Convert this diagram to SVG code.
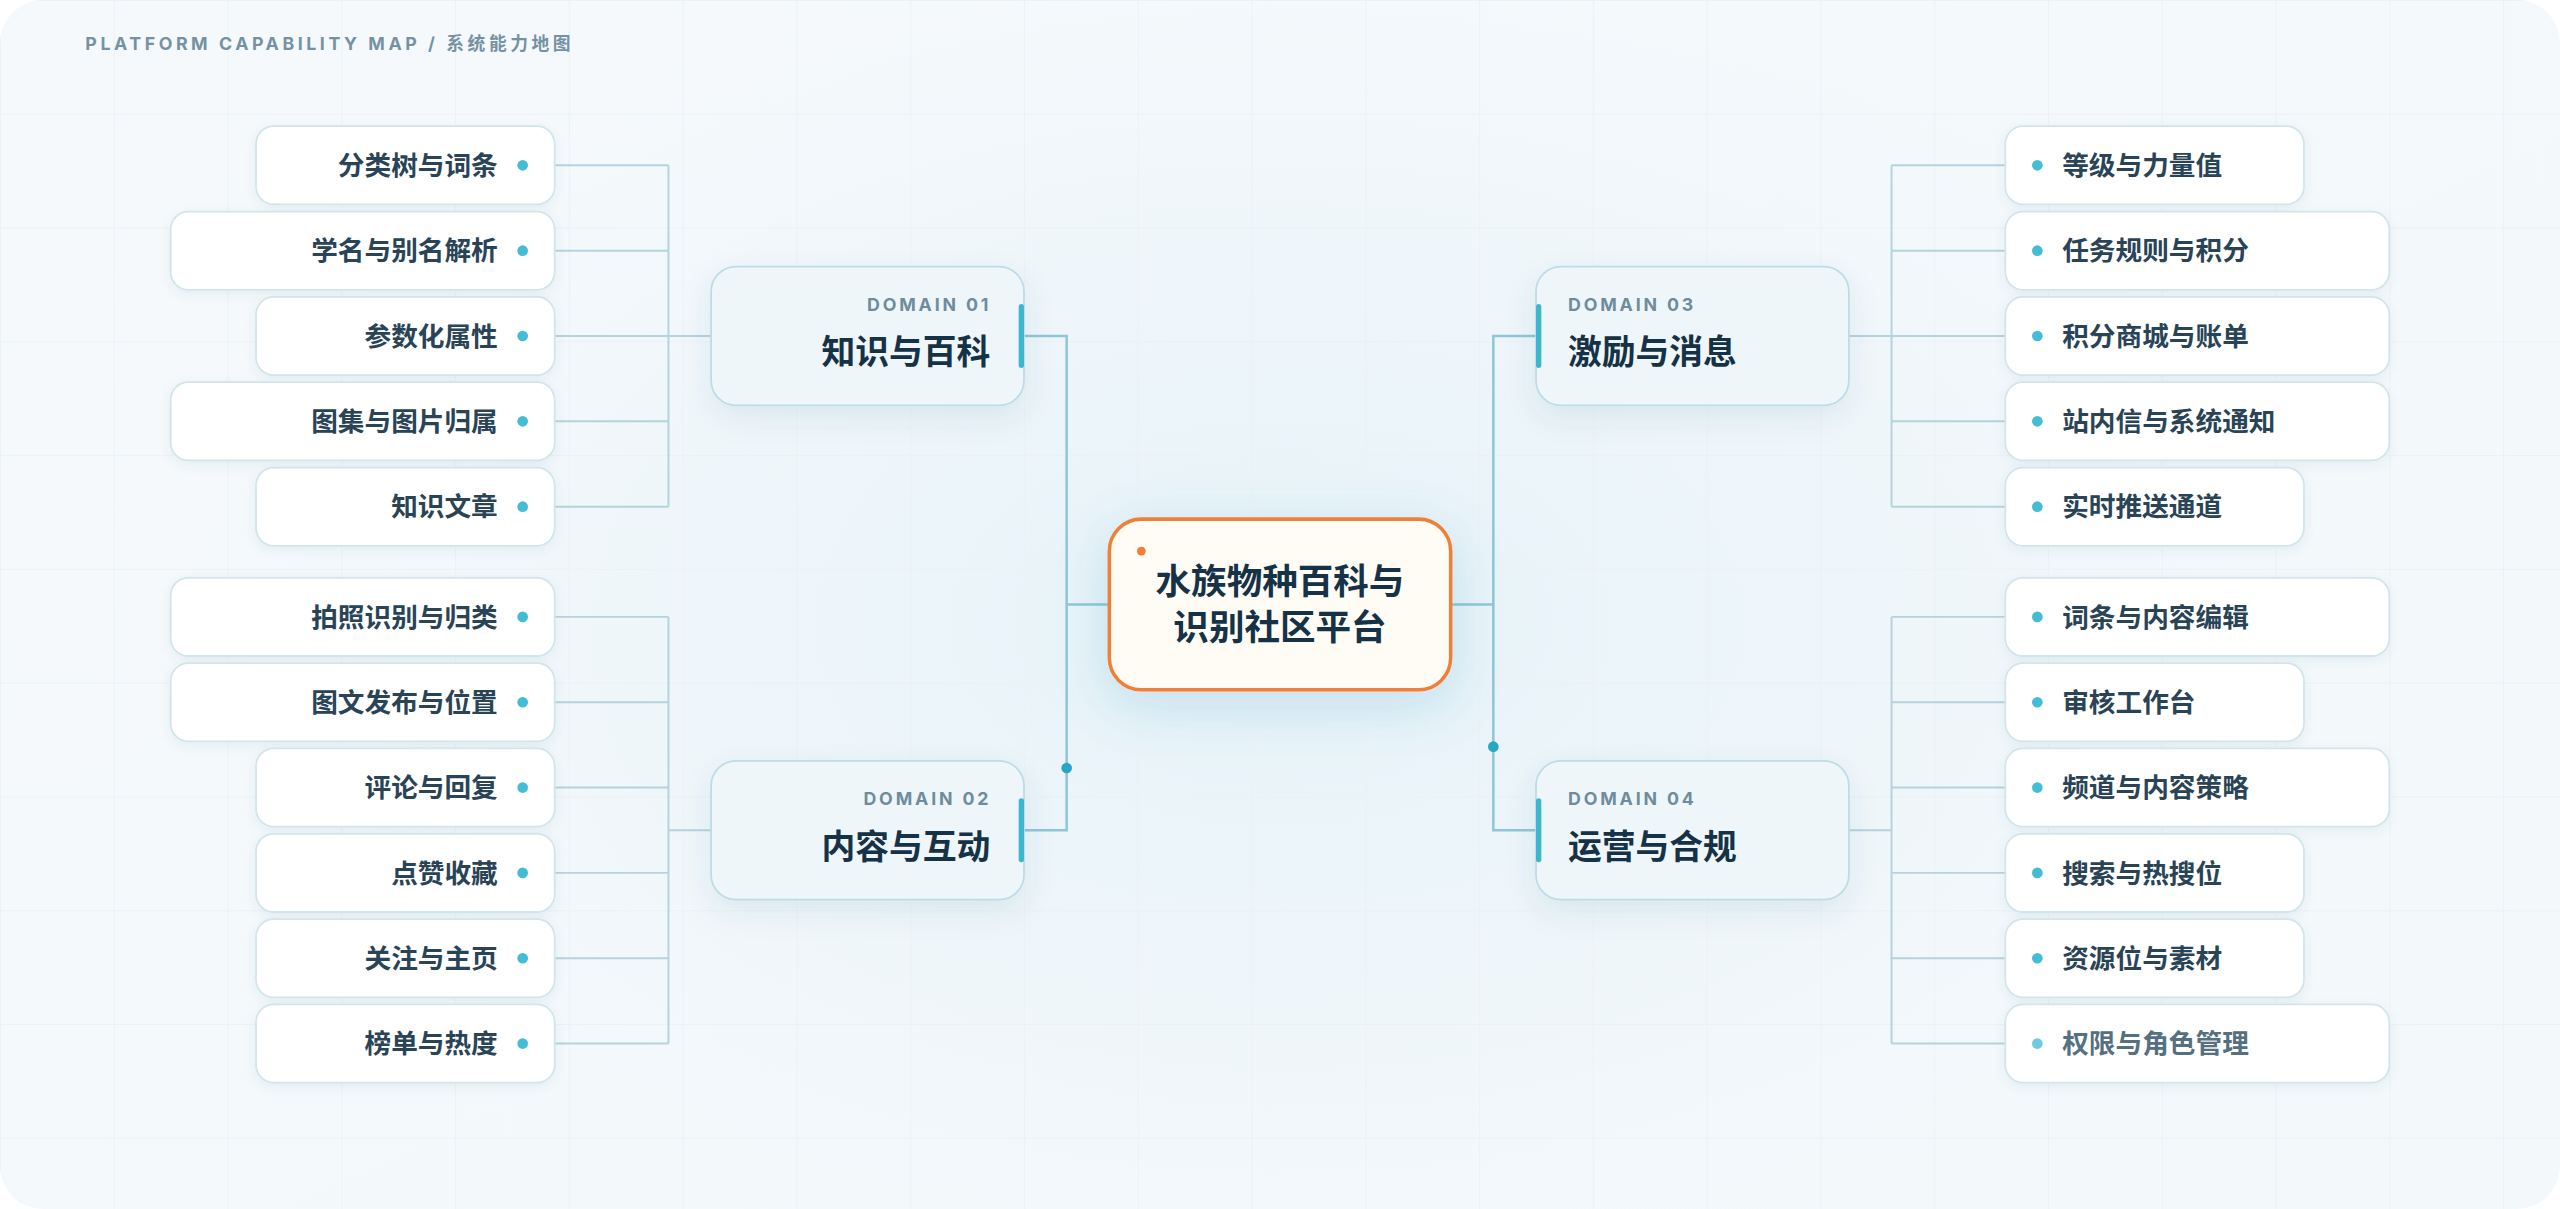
<svg xmlns="http://www.w3.org/2000/svg" width="2560" height="1209" viewBox="0 0 2560 1209">
<defs>
<style>
.leaf rect{fill:#ffffff;stroke:#d3e5eb;stroke-width:1}
.leaf text{font-family:Inter,"Noto Sans CJK SC",sans-serif;font-size:15px;font-weight:600;fill:#2a4457}
.leaf circle{fill:#45bcd5}
.leaf.fade text{fill:#55707f}
.leaf.fade circle{fill:#6ccbe0}
.dom .box{fill:#eef6fa;stroke:#bddce6;stroke-width:1}
.dom .bar{fill:#3db6cf}
.dom .lbl{font-family:Inter,"Noto Sans",sans-serif;font-size:10px;font-weight:700;letter-spacing:1.6px;fill:#6f8c9c}
.dom .ttl{font-family:Inter,"Noto Sans CJK SC",sans-serif;font-size:19px;font-weight:700;fill:#163246}
.conn path{fill:none}
.thin{stroke:#b4d3dd;stroke-width:1.1}
.trunk{stroke:#90c5d6;stroke-width:1.4}
.tdot{fill:#27a6c5}
</style>
<linearGradient id="cardBg" x1="0" y1="0" x2="1" y2="1">
<stop offset="0" stop-color="#f5f9fc"/>
<stop offset="1" stop-color="#f3f8fb"/>
</linearGradient>
<radialGradient id="glow" cx="0.5" cy="0.5" r="0.5">
<stop offset="0" stop-color="#dfeff7" stop-opacity="0.75"/>
<stop offset="0.6" stop-color="#e6f2f8" stop-opacity="0.35"/>
<stop offset="1" stop-color="#eef6fa" stop-opacity="0"/>
</radialGradient>
<pattern id="grid" width="64" height="64" patternUnits="userSpaceOnUse">
<path d="M0 0V64M0 0H64" fill="none" stroke="#ebf1f5" stroke-width="1"/>
</pattern>
<clipPath id="cardClip"><rect x="0" y="0" width="1440" height="680" rx="24"/></clipPath>
<filter id="shLeaf" x="-20%" y="-40%" width="140%" height="200%">
<feDropShadow dx="0" dy="2" stdDeviation="3" flood-color="#1f5870" flood-opacity="0.07"/>
</filter>
<filter id="shDom" x="-20%" y="-30%" width="140%" height="180%">
<feDropShadow dx="0" dy="6" stdDeviation="8" flood-color="#1f5870" flood-opacity="0.09"/>
</filter>
<filter id="shCtr" x="-40%" y="-60%" width="180%" height="240%">
<feDropShadow dx="0" dy="8" stdDeviation="14" flood-color="#2b8db3" flood-opacity="0.18"/>
</filter>
</defs>
<rect x="0" y="0" width="2560" height="1209" fill="#ffffff"/>
<g transform="scale(1.777778)">
<g id="background">
<rect x="0" y="0" width="1440" height="680" rx="24" fill="url(#cardBg)"/>
<g clip-path="url(#cardClip)">
<ellipse cx="720" cy="350" rx="620" ry="380" fill="url(#glow)"/>
<rect x="0" y="0" width="1440" height="680" fill="url(#grid)"/>
</g>
</g>
<text id="title" x="48" y="28" font-family="Inter, 'Noto Sans CJK SC', sans-serif" font-size="10" font-weight="700" letter-spacing="2" fill="#7592a3">PLATFORM CAPABILITY MAP / 系统能力地图</text>

<g id="connectors" class="conn">
<path class="thin" d="M312 93H376M312 141H376M312 189H400M312 237H376M312 285H376M376 93V285"/>
<path class="thin" d="M312 347H376M312 395H376M312 443H376M312 491H376M312 539H376M312 587H376M376 347V587M376 467H400"/>
<path class="thin" d="M1128 93H1064M1128 141H1064M1128 189H1040M1128 237H1064M1128 285H1064M1064 93V285"/>
<path class="thin" d="M1128 347H1064M1128 395H1064M1128 443H1064M1128 491H1064M1128 539H1064M1128 587H1064M1064 347V587M1064 467H1040"/>
<path class="trunk" d="M576 189H600V467H576M600 340H624"/>
<path class="trunk" d="M864 189H840V467H864M840 340H816"/>
<circle class="tdot" cx="600" cy="432" r="3"/>
<circle class="tdot" cx="840" cy="420" r="3"/>
</g>

<g id="domain-01" class="dom">
<rect class="box" x="400" y="150" width="176" height="78" rx="14" filter="url(#shDom)"/>
<rect class="bar" x="573" y="171" width="3" height="36" rx="1.5"/>
<text class="lbl" x="557.6" y="175" text-anchor="end">DOMAIN 01</text>
<text class="ttl" x="557" y="205" text-anchor="end">知识与百科</text>
</g>
<g id="domain-02" class="dom">
<rect class="box" x="400" y="428" width="176" height="78" rx="14" filter="url(#shDom)"/>
<rect class="bar" x="573" y="449" width="3" height="36" rx="1.5"/>
<text class="lbl" x="557.6" y="453" text-anchor="end">DOMAIN 02</text>
<text class="ttl" x="557" y="483" text-anchor="end">内容与互动</text>
</g>
<g id="domain-03" class="dom">
<rect class="box" x="864" y="150" width="176" height="78" rx="14" filter="url(#shDom)"/>
<rect class="bar" x="864" y="171" width="3" height="36" rx="1.5"/>
<text class="lbl" x="882" y="175">DOMAIN 03</text>
<text class="ttl" x="882" y="205">激励与消息</text>
</g>
<g id="domain-04" class="dom">
<rect class="box" x="864" y="428" width="176" height="78" rx="14" filter="url(#shDom)"/>
<rect class="bar" x="864" y="449" width="3" height="36" rx="1.5"/>
<text class="lbl" x="882" y="453">DOMAIN 04</text>
<text class="ttl" x="882" y="483">运营与合规</text>
</g>

<g id="center">
<rect x="624" y="292" width="192" height="96" rx="18" fill="#fffcf6" stroke="#f08035" stroke-width="2" filter="url(#shCtr)"/>
<circle cx="642" cy="310" r="2.5" fill="#f08035"/>
<text x="720" y="334" text-anchor="middle" font-family="Inter, 'Noto Sans CJK SC', sans-serif" font-size="20" font-weight="700" fill="#163246">水族物种百科与</text>
<text x="720" y="360" text-anchor="middle" font-family="Inter, 'Noto Sans CJK SC', sans-serif" font-size="20" font-weight="700" fill="#163246">识别社区平台</text>
</g>

<g id="leaf-1-1" class="leaf"><rect x="144" y="71" width="168" height="44" rx="10" filter="url(#shLeaf)"/><text x="280" y="98.5" text-anchor="end">分类树与词条</text><circle cx="294" cy="93" r="3"/></g>
<g id="leaf-1-2" class="leaf"><rect x="96" y="119" width="216" height="44" rx="10" filter="url(#shLeaf)"/><text x="280" y="146.5" text-anchor="end">学名与别名解析</text><circle cx="294" cy="141" r="3"/></g>
<g id="leaf-1-3" class="leaf"><rect x="144" y="167" width="168" height="44" rx="10" filter="url(#shLeaf)"/><text x="280" y="194.5" text-anchor="end">参数化属性</text><circle cx="294" cy="189" r="3"/></g>
<g id="leaf-1-4" class="leaf"><rect x="96" y="215" width="216" height="44" rx="10" filter="url(#shLeaf)"/><text x="280" y="242.5" text-anchor="end">图集与图片归属</text><circle cx="294" cy="237" r="3"/></g>
<g id="leaf-1-5" class="leaf"><rect x="144" y="263" width="168" height="44" rx="10" filter="url(#shLeaf)"/><text x="280" y="290.5" text-anchor="end">知识文章</text><circle cx="294" cy="285" r="3"/></g>

<g id="leaf-2-1" class="leaf"><rect x="96" y="325" width="216" height="44" rx="10" filter="url(#shLeaf)"/><text x="280" y="352.5" text-anchor="end">拍照识别与归类</text><circle cx="294" cy="347" r="3"/></g>
<g id="leaf-2-2" class="leaf"><rect x="96" y="373" width="216" height="44" rx="10" filter="url(#shLeaf)"/><text x="280" y="400.5" text-anchor="end">图文发布与位置</text><circle cx="294" cy="395" r="3"/></g>
<g id="leaf-2-3" class="leaf"><rect x="144" y="421" width="168" height="44" rx="10" filter="url(#shLeaf)"/><text x="280" y="448.5" text-anchor="end">评论与回复</text><circle cx="294" cy="443" r="3"/></g>
<g id="leaf-2-4" class="leaf"><rect x="144" y="469" width="168" height="44" rx="10" filter="url(#shLeaf)"/><text x="280" y="496.5" text-anchor="end">点赞收藏</text><circle cx="294" cy="491" r="3"/></g>
<g id="leaf-2-5" class="leaf"><rect x="144" y="517" width="168" height="44" rx="10" filter="url(#shLeaf)"/><text x="280" y="544.5" text-anchor="end">关注与主页</text><circle cx="294" cy="539" r="3"/></g>
<g id="leaf-2-6" class="leaf"><rect x="144" y="565" width="168" height="44" rx="10" filter="url(#shLeaf)"/><text x="280" y="592.5" text-anchor="end">榜单与热度</text><circle cx="294" cy="587" r="3"/></g>

<g id="leaf-3-1" class="leaf"><rect x="1128" y="71" width="168" height="44" rx="10" filter="url(#shLeaf)"/><circle cx="1146" cy="93" r="3"/><text x="1160" y="98.5">等级与力量值</text></g>
<g id="leaf-3-2" class="leaf"><rect x="1128" y="119" width="216" height="44" rx="10" filter="url(#shLeaf)"/><circle cx="1146" cy="141" r="3"/><text x="1160" y="146.5">任务规则与积分</text></g>
<g id="leaf-3-3" class="leaf"><rect x="1128" y="167" width="216" height="44" rx="10" filter="url(#shLeaf)"/><circle cx="1146" cy="189" r="3"/><text x="1160" y="194.5">积分商城与账单</text></g>
<g id="leaf-3-4" class="leaf"><rect x="1128" y="215" width="216" height="44" rx="10" filter="url(#shLeaf)"/><circle cx="1146" cy="237" r="3"/><text x="1160" y="242.5">站内信与系统通知</text></g>
<g id="leaf-3-5" class="leaf"><rect x="1128" y="263" width="168" height="44" rx="10" filter="url(#shLeaf)"/><circle cx="1146" cy="285" r="3"/><text x="1160" y="290.5">实时推送通道</text></g>

<g id="leaf-4-1" class="leaf"><rect x="1128" y="325" width="216" height="44" rx="10" filter="url(#shLeaf)"/><circle cx="1146" cy="347" r="3"/><text x="1160" y="352.5">词条与内容编辑</text></g>
<g id="leaf-4-2" class="leaf"><rect x="1128" y="373" width="168" height="44" rx="10" filter="url(#shLeaf)"/><circle cx="1146" cy="395" r="3"/><text x="1160" y="400.5">审核工作台</text></g>
<g id="leaf-4-3" class="leaf"><rect x="1128" y="421" width="216" height="44" rx="10" filter="url(#shLeaf)"/><circle cx="1146" cy="443" r="3"/><text x="1160" y="448.5">频道与内容策略</text></g>
<g id="leaf-4-4" class="leaf"><rect x="1128" y="469" width="168" height="44" rx="10" filter="url(#shLeaf)"/><circle cx="1146" cy="491" r="3"/><text x="1160" y="496.5">搜索与热搜位</text></g>
<g id="leaf-4-5" class="leaf"><rect x="1128" y="517" width="168" height="44" rx="10" filter="url(#shLeaf)"/><circle cx="1146" cy="539" r="3"/><text x="1160" y="544.5">资源位与素材</text></g>
<g id="leaf-4-6" class="leaf fade"><rect x="1128" y="565" width="216" height="44" rx="10" filter="url(#shLeaf)"/><circle cx="1146" cy="587" r="3"/><text x="1160" y="592.5">权限与角色管理</text></g>
</g>
</svg>
